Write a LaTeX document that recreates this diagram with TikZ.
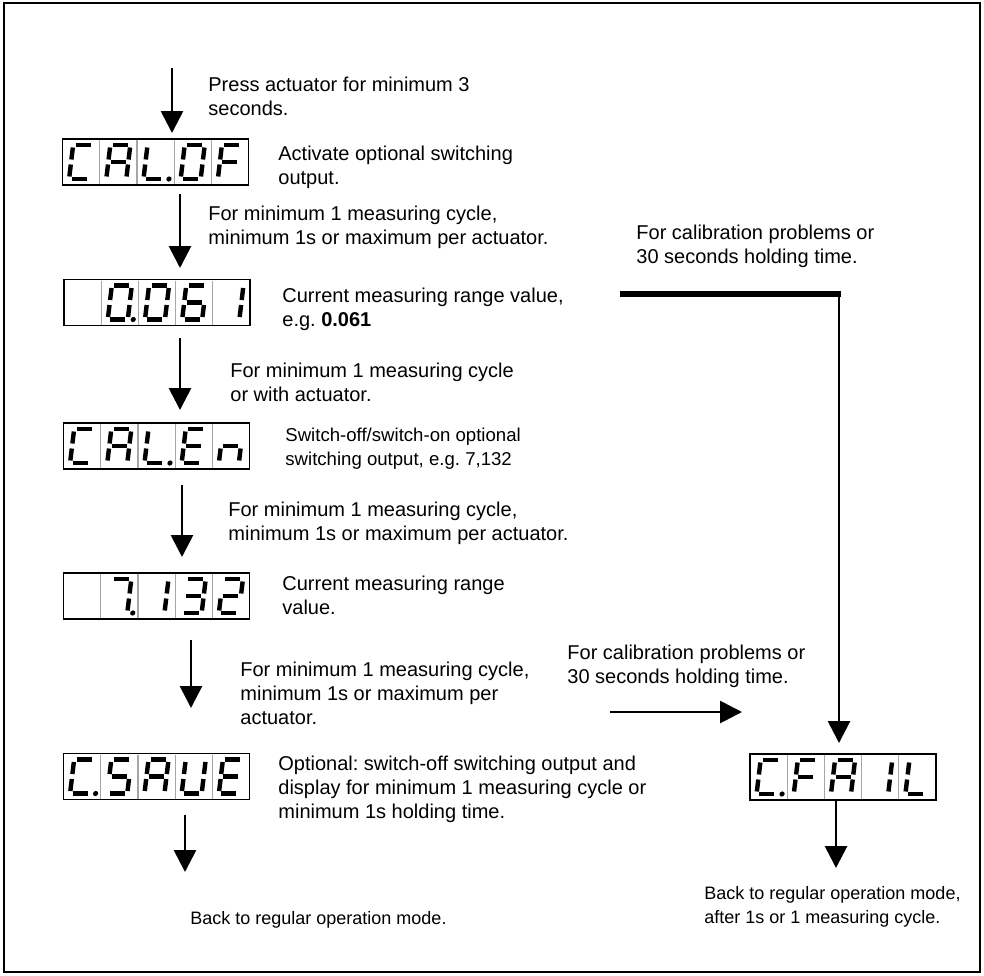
\documentclass[tikz,border=0pt]{standalone}
\usepackage{fontspec}
\setmainfont{Liberation Sans}
\frenchspacing
\usetikzlibrary{arrows.meta,calc}
\tikzset{
    flow/.style={-{Triangle[length=11pt, width=11pt]}, line width=1.4pt},
    feedback/.style={line width=2.6pt},
    note/.style={anchor=north west, inner sep=0pt, align=left,
                 font=\fontsize{10}{12}\selectfont},
    smallnote/.style={note, font=\fontsize{9.3}{11.6}\selectfont},
    endnote/.style={note, font=\fontsize{9}{12}\selectfont},
    lcdbox/.style={draw, line width=0.7pt, minimum width=93pt,
                   minimum height=23pt, inner sep=0pt, outer sep=0pt},
    divider/.style={draw=black!35, line width=0.6pt},
    segline/.style={line width=2.2pt},
}
% seven segment pieces, cell centre at origin
\newcommand{\dsega}{\draw[segline] (-7.5,-17) -- (7.5,-17);}
\newcommand{\dsegb}{\draw[segline] (10,-14.5) -- (10,-2.5);}
\newcommand{\dsegc}{\draw[segline] (10,2.5) -- (10,14.5);}
\newcommand{\dsegd}{\draw[segline] (-7.5,17) -- (7.5,17);}
\newcommand{\dsege}{\draw[segline] (-10,2.5) -- (-10,14.5);}
\newcommand{\dsegf}{\draw[segline] (-10,-14.5) -- (-10,-2.5);}
\newcommand{\dsegg}{\draw[segline] (-7.5,0) -- (7.5,0);}
\newcommand{\dsegp}{\fill (15.5,17) circle (1.3pt);}
\newcommand{\sevenseg}[3]{
    \begin{scope}[shift={($(#1.west)+(37.2*#2-18.6,0)$)}, xslant=0.12]
        \foreach \s in {#3} {\csname dseg\s\endcsname}
    \end{scope}
}
\newcommand{\lcd}[7]{
    \node[lcdbox] (#1) at (#2) {};
    \foreach \i in {1,...,4}
        \draw[divider] ($(#1.north west)+(37.2*\i,1)$) -- ($(#1.south west)+(37.2*\i,-1)$);
    \sevenseg{#1}{1}{#3}
    \sevenseg{#1}{2}{#4}
    \sevenseg{#1}{3}{#5}
    \sevenseg{#1}{4}{#6}
    \sevenseg{#1}{5}{#7}
}

\begin{document}
\begin{tikzpicture}[x=0.5pt, y=-0.5pt]
    \useasboundingbox (0,0) rectangle (984,975);
    \draw[line width=1pt] (4,3) rectangle (980,972);

    % displays
    \lcd{caloff}{155.5,162}{a,d,e,f}{a,b,c,e,f,g}{d,e,f,p}{a,b,c,d,e,f}{a,e,f,g}
    \lcd{rangeA}{157,302.5}{}{a,b,c,d,e,f,p}{a,b,c,d,e,f}{a,c,d,e,f,g}{b,c}
    \lcd{calen}{156.5,446}{a,d,e,f}{a,b,c,e,f,g}{d,e,f,p}{a,d,e,f,g}{c,e,g}
    \lcd{rangeB}{156.5,596}{}{a,b,c,p}{b,c}{a,b,c,d,g}{a,b,d,e,g}
    \lcd{csave}{156.5,776.5}{a,d,e,f,p}{a,c,d,f,g}{a,b,c,e,f,g}{b,c,d,e,f}{a,d,e,f,g}
    \lcd{cfail}{843,777}{a,d,e,f,p}{a,e,f,g}{a,b,c,e,f,g}{b,c}{d,e,f}

    % main sequence
    \coordinate (start) at (172,68);
    \coordinate (startend) at (172,133);
    \draw[flow] (start) -- (startend);
    \node[note] (press) at (208,77) {Press actuator for minimum 3\\seconds.};
    \node[note] (activate) at (278,146) {Activate optional switching\\output.};

    \coordinate (s1a) at (180,194);
    \coordinate (s1b) at (180,268);
    \draw[flow] (s1a) -- (s1b);
    \node[note] (cycleA) at (208,206) {For minimum 1 measuring cycle,\\minimum 1s or maximum per actuator.};

    \node[note] (rangeAtxt) at (282,288) {Current measuring range value,\\e.g. \textbf{0.061}};

    \coordinate (s2a) at (180,338);
    \coordinate (s2b) at (180,410);
    \draw[flow] (s2a) -- (s2b);
    \node[note] (cycleB) at (230,363) {For minimum 1 measuring cycle\\or with actuator.};

    \node[smallnote] (switchtxt) at (285,428) {Switch-off/switch-on optional\\switching output, e.g. 7,132};

    \coordinate (s3a) at (182,485);
    \coordinate (s3b) at (182,557);
    \draw[flow] (s3a) -- (s3b);
    \node[note] (cycleC) at (228,502) {For minimum 1 measuring cycle,\\minimum 1s or maximum per actuator.};

    \node[note] (rangeBtxt) at (282,576) {Current measuring range\\value.};

    \coordinate (s4a) at (191,640);
    \coordinate (s4b) at (191,708);
    \draw[flow] (s4a) -- (s4b);
    \node[note] (cycleD) at (240,662) {For minimum 1 measuring cycle,\\minimum 1s or maximum per\\actuator.};

    \node[note] (optional) at (278,756) {Optional: switch-off switching output and\\display for minimum 1 measuring cycle or\\minimum 1s holding time.};

    \coordinate (s5a) at (185,815);
    \coordinate (s5b) at (185,872);
    \draw[flow] (s5a) -- (s5b);
    \node[endnote] (backA) at (190,911) {Back to regular operation mode.};

    % failure branch
    \node[note] (failA) at (636,225) {For calibration problems or\\30 seconds holding time.};
    \coordinate (fbstart) at (620,294);
    \coordinate (fbcorner) at (839,294);
    \coordinate (fbend) at (839,743);
    \draw[feedback] (fbstart) -- ($(fbcorner)+(1.5,0)$);
    \draw[flow] (fbcorner) -- (fbend);

    \node[note] (failB) at (567,645) {For calibration problems or\\30 seconds holding time.};
    \coordinate (fbin) at (610,712);
    \coordinate (fbinend) at (742,712);
    \draw[flow] (fbin) -- (fbinend);

    \coordinate (f1a) at (836,800);
    \coordinate (f1b) at (836,868);
    \draw[flow] (f1a) -- (f1b);
    \node[endnote] (backB) at (704,886) {Back to regular operation mode,\\after 1s or 1 measuring cycle.};

\end{tikzpicture}
\end{document}
